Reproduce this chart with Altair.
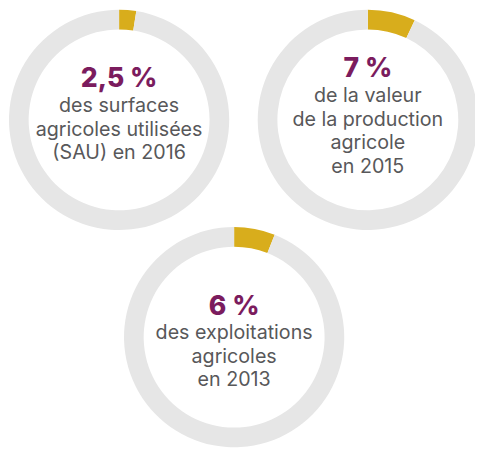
import altair as alt
import pandas as pd

# Data
shares = [2.5, 7, 6]
headlines = ["2,5 %", "7 %", "6 %"]
descriptions = [
    ["des surfaces", "agricoles utilisées", "(SAU) en 2016"],
    ["de la valeur", "de la production", "agricole", "en 2015"],
    ["des exploitations", "agricoles", "en 2013"],
]

# Layout (positions of each ring's centre and text baselines, in px)
centres = [(113, 110), (366, 110), (230, 331)]
head_y = [77, 66, 308]
desc_y = [102, 92, 333]
GOLD = "#d8ad1c"
GREY = "#e6e6e6"
PURPLE = "#7b1c5e"
TEXT = "#58585a"
FONT = "Inter"

layers = []
for i, p in enumerate(shares):
    cx, cy = centres[i]
    arc_df = pd.DataFrame({"part": ["share", "rest"], "v": [p, 100 - p], "o": [0, 1]})
    arc = alt.Chart(arc_df).mark_arc(outerRadius=112, innerRadius=92).encode(
        theta=alt.Theta("v:Q", stack=True),
        order=alt.Order("o:Q"),
        color=alt.Color("part:N", scale=alt.Scale(domain=["share", "rest"], range=[GOLD, GREY]), legend=None),
        x=alt.value(cx),
        y=alt.value(cy),
    )
    head = alt.Chart(pd.DataFrame({"t": [headlines[i]]})).mark_text(
        font=FONT, fontSize=27, fontWeight=800, color=PURPLE, baseline="alphabetic", align="center"
    ).encode(text="t:N", x=alt.value(cx), y=alt.value(head_y[i]))
    desc = alt.Chart(pd.DataFrame({"t": ["\n".join(descriptions[i])]})).mark_text(
        font=FONT, fontSize=20, color=TEXT, baseline="alphabetic", align="center",
        lineBreak="\n", lineHeight=24
    ).encode(text="t:N", x=alt.value(cx), y=alt.value(desc_y[i]))
    layers += [arc, head, desc]

chart = alt.layer(*layers).properties(
    width=475, height=442, padding=0, autosize="none"
).configure_view(stroke=None)

chart.save("out.html", embed_options={"renderer": "svg", "actions": False})
